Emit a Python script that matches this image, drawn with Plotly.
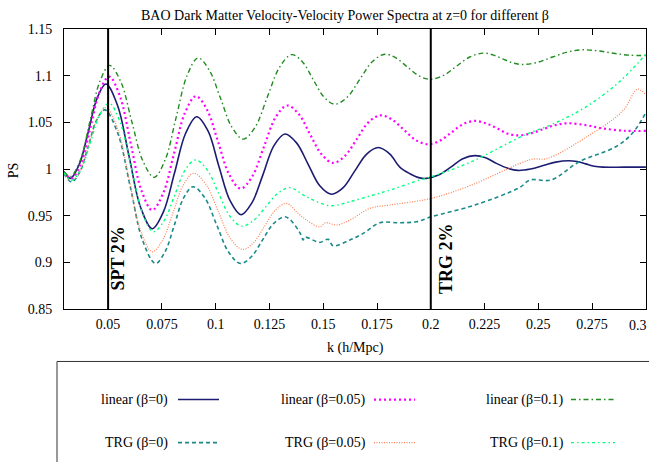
import plotly.graph_objects as go

# ---------------- data ----------------
k_lin0 = [0.0295, 0.0325, 0.0366, 0.0408, 0.0449, 0.049, 0.0544, 0.0598, 0.0651, 0.0705, 0.0757, 0.0809,
          0.086, 0.0912, 0.0964, 0.1015, 0.1067, 0.1118, 0.1169, 0.122, 0.1271, 0.1322, 0.1376, 0.143,
          0.1484, 0.1538, 0.1593, 0.1647, 0.1702, 0.1756, 0.181, 0.1856, 0.1903, 0.1949, 0.198, 0.2036,
          0.2093, 0.2149, 0.2205, 0.2255, 0.2305, 0.2355, 0.2405, 0.2464, 0.2523, 0.2581, 0.264, 0.268,
          0.272, 0.276, 0.280, 0.290, 0.300]
ps_lin0 = [0.997, 0.990, 1.005, 1.040, 1.076, 1.091, 1.068, 1.013, 0.959, 0.936, 0.954, 0.996,
           1.038, 1.056, 1.041, 1.003, 0.966, 0.951, 0.964, 0.994, 1.025, 1.0375, 1.028, 1.005,
           0.982, 0.973, 0.980, 0.998, 1.016, 1.023, 1.016, 1.002, 0.995, 0.9905, 0.990, 0.9935,
           1.002, 1.011, 1.0143, 1.012, 1.006, 1.001, 0.9985, 1.000, 1.0037, 1.0074, 1.0089, 1.008,
           1.0055, 1.003, 1.002, 1.002, 1.002]

k_lin005 = [0.0295, 0.033, 0.0374, 0.0418, 0.0461, 0.0505, 0.0555, 0.0605, 0.0655, 0.0705, 0.0756, 0.0807,
            0.0857, 0.0908, 0.096, 0.1012, 0.1064, 0.1116, 0.117, 0.1224, 0.1278, 0.1332, 0.1386, 0.1439,
            0.1493, 0.1546, 0.1601, 0.1656, 0.171, 0.1765, 0.182, 0.1875, 0.193, 0.1985, 0.204, 0.2095,
            0.215, 0.2205, 0.2255, 0.2305, 0.2355, 0.2405, 0.2463, 0.252, 0.2578, 0.2635, 0.272, 0.280,
            0.290, 0.300]
ps_lin005 = [0.997, 0.990, 1.006, 1.0445, 1.083, 1.099, 1.078, 1.0275, 0.977, 0.956, 0.974, 1.017,
             1.060, 1.078, 1.0635, 1.0285, 0.9935, 0.979, 0.992, 1.0235, 1.055, 1.068, 1.059, 1.037,
             1.0155, 1.0065, 1.014, 1.032, 1.050, 1.0575, 1.053, 1.042, 1.031, 1.0265, 1.030, 1.039,
             1.048, 1.0515, 1.049, 1.044, 1.038, 1.036, 1.038, 1.0425, 1.047, 1.049, 1.047, 1.0435,
             1.041, 1.0408]

k_lin01 = [0.0295, 0.0325, 0.037, 0.0416, 0.0462, 0.0507, 0.0559, 0.061, 0.0662, 0.0714, 0.0765, 0.0816,
           0.0867, 0.0918, 0.097, 0.1023, 0.1075, 0.1128, 0.1184, 0.124, 0.1297, 0.1353, 0.1403, 0.1453,
           0.1504, 0.1554, 0.1612, 0.167, 0.1728, 0.1786, 0.1838, 0.189, 0.1943, 0.1995, 0.2057, 0.2119,
           0.2181, 0.2243, 0.2289, 0.2334, 0.238, 0.2425, 0.2496, 0.2566, 0.2637, 0.2708, 0.278, 0.285,
           0.292, 0.300]
ps_lin01 = [0.997, 0.992, 1.009, 1.0515, 1.094, 1.111, 1.0935, 1.051, 1.0085, 0.991, 1.0097, 1.055,
            1.100, 1.119, 1.106, 1.0755, 1.045, 1.032, 1.045, 1.077, 1.109, 1.1225, 1.115, 1.096,
            1.077, 1.0694, 1.077, 1.096, 1.115, 1.123, 1.119, 1.1096, 1.100, 1.0962, 1.100, 1.110,
            1.120, 1.1241, 1.1223, 1.118, 1.1137, 1.112, 1.1143, 1.120, 1.1254, 1.1277, 1.1265, 1.124,
            1.122, 1.1216]

k_trg0 = [0.0295, 0.033, 0.0369, 0.0408, 0.0446, 0.0485, 0.0544, 0.0603, 0.0661, 0.072, 0.0764, 0.0808,
          0.0851, 0.0895, 0.095, 0.1005, 0.106, 0.1115, 0.1166, 0.1218, 0.1269, 0.132, 0.1345, 0.1391,
          0.1407, 0.1414, 0.1484, 0.1523, 0.1546, 0.1624, 0.1686, 0.1763, 0.1856, 0.1934, 0.2003,
          0.2205, 0.2414, 0.2461, 0.2559, 0.2691, 0.286, 0.2937, 0.300]
ps_trg0 = [0.995, 0.986, 0.997, 1.0245, 1.052, 1.0633, 1.039, 0.981, 0.923, 0.8988, 0.911, 0.940,
           0.969, 0.981, 0.969, 0.940, 0.911, 0.8988, 0.906, 0.924, 0.9415, 0.9488, 0.946, 0.932,
           0.924, 0.927, 0.9214, 0.9246, 0.9177, 0.924, 0.931, 0.9424, 0.9424, 0.9435, 0.9488,
           0.9614, 0.9803, 0.9882, 0.9882, 1.0079, 1.0239, 1.0383, 1.0604]

k_trg005 = [0.0295, 0.033, 0.037, 0.041, 0.045, 0.049, 0.0544, 0.0598, 0.0651, 0.0705, 0.0753, 0.0802,
            0.085, 0.0898, 0.0955, 0.1012, 0.1068, 0.1125, 0.1176, 0.1227, 0.1278, 0.1329, 0.1383,
            0.1422, 0.1484, 0.1512, 0.1562, 0.1624, 0.1717, 0.181, 0.2003, 0.2189, 0.2414, 0.2476,
            0.2537, 0.2722, 0.2892, 0.2961, 0.300]
ps_trg005 = [0.995, 0.987, 0.9985, 1.026, 1.054, 1.0658, 1.0432, 0.9886, 0.934, 0.9113, 0.9236, 0.9534,
             0.983, 0.9954, 0.9835, 0.9546, 0.9257, 0.9138, 0.921, 0.9385, 0.956, 0.9632, 0.9525,
             0.9453, 0.938, 0.9424, 0.940, 0.9453, 0.9578, 0.9614, 0.9686, 0.9828, 1.006, 1.0107,
             1.011, 1.034, 1.0622, 1.0855, 1.0794]

k_trg01 = [0.0295, 0.033, 0.0374, 0.0418, 0.0461, 0.0505, 0.0556, 0.0608, 0.0659, 0.071, 0.0759, 0.0808,
           0.0857, 0.0906, 0.096, 0.1013, 0.1067, 0.112, 0.1176, 0.1233, 0.1289, 0.1345, 0.1422, 0.1531,
           0.1624, 0.1732, 0.1825, 0.1949, 0.2003, 0.219, 0.2437, 0.2569, 0.2724, 0.2878, 0.300]
ps_trg01 = [0.996, 0.988, 1.000, 1.029, 1.058, 1.0705, 1.050, 1.0017, 0.953, 0.9328, 0.944, 0.971,
            0.9985, 1.0097, 0.9993, 0.9743, 0.9492, 0.9388, 0.9448, 0.9594, 0.974, 0.980, 0.9703, 0.9607,
            0.965, 0.9721, 0.9785, 0.9882, 0.9918, 1.0079, 1.0365, 1.0483, 1.0669, 1.0937, 1.123]

series_names = ["linear (β=0)", "linear (β=0.05)", "linear (β=0.1)",
                "TRG (β=0)", "TRG (β=0.05)", "TRG (β=0.1)"]

marker_k = [0.05, 0.2]
marker_labels = ["SPT 2%", "TRG 2%"]

x_ticks = [0.05, 0.075, 0.1, 0.125, 0.15, 0.175, 0.2, 0.225, 0.25, 0.275, 0.3]
x_tick_text = ["0.05", "0.075", "0.1", "0.125", "0.15", "0.175", "0.2", "0.225", "0.25", "0.275", "0.3"]
y_ticks = [0.85, 0.9, 0.95, 1.0, 1.05, 1.1, 1.15]
y_tick_text = ["0.85", "0.9", "0.95", "1", "1.05", "1.1", "1.15"]

# ---------------- styling ----------------
FONT = "Liberation Serif"
FS = 14
W, H = 649, 462
L, R, T, B = 64, 646, 29, 308.6

styles = [
    dict(color="#1c1c72", dash="solid", width=1.6),
    dict(color="#ff00ff", dash="2px,3px", width=2.2),
    dict(color="#228b22", dash="5px,3px,1.5px,3px", width=1.4),
    dict(color="#1a8a8a", dash="4px,3px", width=1.6),
    dict(color="#ff7f50", dash="1px,1.5px", width=1.2),
    dict(color="#00ff7f", dash="3px,3px,1.5px,3px", width=1.4),
]
data = [(k_lin0, ps_lin0), (k_lin005, ps_lin005), (k_lin01, ps_lin01),
        (k_trg0, ps_trg0), (k_trg005, ps_trg005), (k_trg01, ps_trg01)]


def px(xp):
    return (xp - L) / (R - L)


def py(yp):
    return (B - yp) / (B - T)


fig = go.Figure()
for (kk, vv), st, nm in zip(data, styles, series_names):
    fig.add_trace(go.Scatter(
        x=kk, y=vv, mode="lines", name=nm, showlegend=False,
        line=dict(color=st["color"], dash=st["dash"], width=st["width"],
                  shape="spline", smoothing=1.0),
    ))

shapes = []
annotations = []

# vertical reference lines with labels
label_shift = [10, 16]
for kv, lab, sh in zip(marker_k, marker_labels, label_shift):
    shapes.append(dict(type="line", xref="x", yref="paper", x0=kv, x1=kv, y0=0, y1=1,
                       line=dict(color="black", width=2)))
    annotations.append(dict(xref="x", yref="paper", x=kv, y=py(258), xshift=sh,
                            text="<b>%s</b>" % lab, textangle=-90, showarrow=False,
                            xanchor="center", yanchor="middle",
                            font=dict(family=FONT, size=18, color="black")))

# last x tick label: kept inside the page (it sits at the right edge)
shown_tick_text = x_tick_text[:-1] + [""]
annotations.append(dict(xref="x", yref="paper", x=x_ticks[-1], y=py(325), xshift=3,
                        text=x_tick_text[-1], showarrow=False, xanchor="right", yanchor="middle",
                        font=dict(family=FONT, size=FS, color="black")))

# custom legend (gnuplot style: text then sample)
shapes.append(dict(type="rect", xref="paper", yref="paper", x0=px(57), x1=px(700),
                   y0=py(480), y1=py(361), line=dict(color="#333333", width=1)))
col_text_right = [170, 368, 566]
col_line = [(178, 219), (374, 415), (571, 615)]
row_y = [399, 442]
for i, (nm, st) in enumerate(zip(series_names, styles)):
    r, c = divmod(i, 3)
    annotations.append(dict(xref="paper", yref="paper", x=px(col_text_right[c]), y=py(row_y[r]),
                            text=nm, showarrow=False, xanchor="right", yanchor="middle",
                            font=dict(family=FONT, size=FS, color="black")))
    shapes.append(dict(type="line", xref="paper", yref="paper",
                       x0=px(col_line[c][0]), x1=px(col_line[c][1]),
                       y0=py(row_y[r]), y1=py(row_y[r]),
                       line=dict(color=st["color"], dash=st["dash"], width=st["width"])))

# axis titles and plot title
annotations.append(dict(xref="paper", yref="paper", x=px(13), y=py(170), text="PS",
                        textangle=-90, showarrow=False, xanchor="center", yanchor="middle",
                        font=dict(family=FONT, size=FS, color="black")))
annotations.append(dict(xref="paper", yref="paper", x=px(355), y=py(348), text="k (h/Mpc)",
                        showarrow=False, xanchor="center", yanchor="middle",
                        font=dict(family=FONT, size=FS, color="black")))
annotations.append(dict(xref="paper", yref="paper", x=px(345), y=py(16),
                        text="BAO Dark Matter Velocity-Velocity Power Spectra at z=0 for different β",
                        showarrow=False, xanchor="center", yanchor="middle",
                        font=dict(family=FONT, size=FS, color="black")))

axis_common = dict(showline=True, linecolor="black", linewidth=1, mirror="allticks",
                   ticks="inside", ticklen=6, tickcolor="black", tickwidth=1,
                   showgrid=False, zeroline=False, ticklabeloverflow="allow", automargin=False,
                   tickfont=dict(family=FONT, size=FS, color="black"))

fig.update_layout(
    width=W, height=H, autosize=False,
    margin=dict(l=L, r=W - R, t=T, b=H - B, pad=0, autoexpand=False),
    paper_bgcolor="white", plot_bgcolor="white",
    xaxis=dict(range=[0.0295, 0.30005], tickmode="array", tickvals=x_ticks, ticktext=shown_tick_text,
               ticklabelstandoff=2, **axis_common),
    yaxis=dict(range=[0.85, 1.15], tickmode="array", tickvals=y_ticks, ticktext=y_tick_text,
               ticklabelstandoff=8, **axis_common),
    shapes=shapes, annotations=annotations, showlegend=False,
)

fig.write_html("out.html")
